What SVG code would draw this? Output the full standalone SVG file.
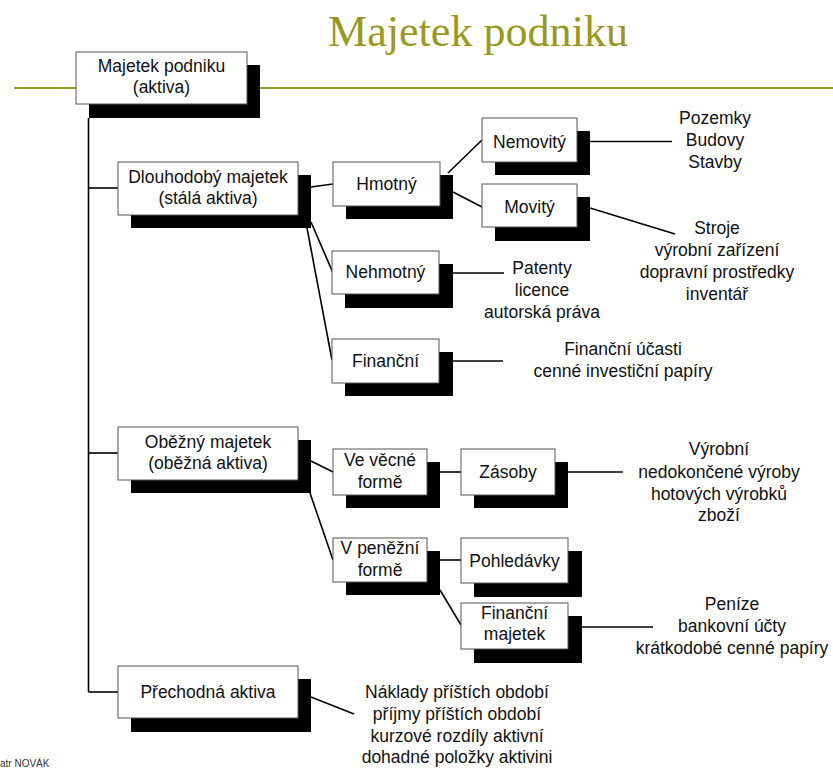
<svg xmlns="http://www.w3.org/2000/svg" width="833" height="769" viewBox="0 0 833 769">
<style>
  .bg { fill: #ffffff; }
  .box { fill: #ffffff; stroke: #555555; stroke-width: 1; }
  .sh { fill: #000000; }
  .t { font-family: "Liberation Sans", Arial, sans-serif; font-size: 17.5px; fill: #111111; text-anchor: middle; }
  .c { stroke: #000000; stroke-width: 1.6; fill: none; }
  .title { font-family: "Liberation Serif", "Times New Roman", serif; font-size: 44px; fill: #98981e; text-anchor: middle; }
  .rule { stroke: #9a9a26; stroke-width: 2; }
  .foot { font-family: "Liberation Sans", Arial, sans-serif; font-size: 10px; fill: #333333; }
</style>
<rect class="bg" x="0" y="0" width="833" height="769"/>
<text class="title" x="478" y="46" textLength="300" lengthAdjust="spacingAndGlyphs">Majetek podniku</text>
<line class="rule" x1="14" y1="88" x2="833" y2="88"/>

<g id="connectors">
  <line class="c" x1="88.5" y1="118" x2="88.5" y2="692"/>
  <line class="c" x1="88.5" y1="188" x2="118" y2="188"/>
  <line class="c" x1="88.5" y1="453" x2="118" y2="453"/>
  <line class="c" x1="88.5" y1="692" x2="118" y2="692"/>
  <line class="c" x1="311" y1="187" x2="333" y2="184"/>
  <line class="c" x1="311" y1="222" x2="333" y2="273"/>
  <line class="c" x1="307" y1="228" x2="332" y2="360"/>
  <line class="c" x1="448" y1="173" x2="482" y2="140"/>
  <line class="c" x1="453" y1="192" x2="482" y2="207"/>
  <line class="c" x1="590" y1="141.5" x2="672" y2="141.5"/>
  <line class="c" x1="590" y1="208" x2="675" y2="234"/>
  <line class="c" x1="453" y1="273" x2="504" y2="273"/>
  <line class="c" x1="453" y1="361" x2="503" y2="361"/>
  <line class="c" x1="311" y1="461" x2="333" y2="472"/>
  <line class="c" x1="310" y1="493" x2="333" y2="560"/>
  <line class="c" x1="440" y1="472" x2="461" y2="472"/>
  <line class="c" x1="568" y1="472" x2="623" y2="472"/>
  <line class="c" x1="440" y1="560" x2="461" y2="560"/>
  <line class="c" x1="440" y1="590" x2="461" y2="625"/>
  <line class="c" x1="582" y1="627" x2="653" y2="627"/>
  <line class="c" x1="311" y1="697" x2="354" y2="714"/>
</g>

<g id="root">
  <rect class="sh" x="89" y="65" width="171" height="53"/>
  <rect class="box" x="76" y="52" width="171" height="52"/>
  <text class="t" x="161.5" y="72">Majetek podniku</text>
  <text class="t" x="161.5" y="93">(aktiva)</text>
</g>

<g id="dlouhodoby">
  <rect class="sh" x="131" y="175" width="180" height="53"/>
  <rect class="box" x="118" y="162" width="180" height="53"/>
  <text class="t" x="208" y="183">Dlouhodobý majetek</text>
  <text class="t" x="208" y="204">(stálá aktiva)</text>
</g>

<g id="hmotny">
  <rect class="sh" x="346" y="175" width="107" height="44"/>
  <rect class="box" x="333" y="162" width="107" height="44"/>
  <text class="t" x="386.5" y="190">Hmotný</text>
</g>

<g id="nemovity">
  <rect class="sh" x="495" y="131" width="95" height="44"/>
  <rect class="box" x="482" y="118" width="95" height="44"/>
  <text class="t" x="529.5" y="148">Nemovitý</text>
</g>

<g id="movity">
  <rect class="sh" x="495" y="197" width="95" height="44"/>
  <rect class="box" x="482" y="184" width="95" height="43"/>
  <text class="t" x="529.5" y="213">Movitý</text>
</g>

<g id="nehmotny">
  <rect class="sh" x="345" y="264" width="108" height="44"/>
  <rect class="box" x="332" y="251" width="107" height="43"/>
  <text class="t" x="385.5" y="278">Nehmotný</text>
</g>

<g id="financni">
  <rect class="sh" x="345" y="352" width="108" height="44"/>
  <rect class="box" x="332" y="339" width="107" height="44"/>
  <text class="t" x="385.5" y="367">Finanční</text>
</g>

<g id="obezny">
  <rect class="sh" x="131" y="440" width="180" height="53"/>
  <rect class="box" x="118" y="427" width="180" height="53"/>
  <text class="t" x="208" y="448">Oběžný majetek</text>
  <text class="t" x="208" y="469">(oběžná aktiva)</text>
</g>

<g id="vecne">
  <rect class="sh" x="346" y="462" width="94" height="46"/>
  <rect class="box" x="333" y="449" width="94" height="46"/>
  <text class="t" x="380" y="466">Ve věcné</text>
  <text class="t" x="380" y="488">formě</text>
</g>

<g id="penezni">
  <rect class="sh" x="346" y="551" width="94" height="44"/>
  <rect class="box" x="333" y="538" width="94" height="44"/>
  <text class="t" x="380" y="554">V peněžní</text>
  <text class="t" x="380" y="576">formě</text>
</g>

<g id="zasoby">
  <rect class="sh" x="474" y="462" width="94" height="46"/>
  <rect class="box" x="461" y="449" width="94" height="46"/>
  <text class="t" x="508" y="478">Zásoby</text>
</g>

<g id="pohledavky">
  <rect class="sh" x="474" y="551" width="108" height="46"/>
  <rect class="box" x="461" y="538" width="107" height="45"/>
  <text class="t" x="514.5" y="567">Pohledávky</text>
</g>

<g id="financni-majetek">
  <rect class="sh" x="474" y="616" width="108" height="47"/>
  <rect class="box" x="461" y="603" width="107" height="46"/>
  <text class="t" x="514.5" y="619">Finanční</text>
  <text class="t" x="514.5" y="640">majetek</text>
</g>

<g id="prechodna">
  <rect class="sh" x="131" y="679" width="180" height="53"/>
  <rect class="box" x="118" y="666" width="180" height="52"/>
  <text class="t" x="208" y="698">Přechodná aktiva</text>
</g>

<g id="notes">
  <text class="t" x="715" y="124">Pozemky</text>
  <text class="t" x="715" y="146">Budovy</text>
  <text class="t" x="715" y="167.5">Stavby</text>

  <text class="t" x="717" y="234">Stroje</text>
  <text class="t" x="717" y="256">výrobní zařízení</text>
  <text class="t" x="717" y="278">dopravní prostředky</text>
  <text class="t" x="717" y="300">inventář</text>

  <text class="t" x="542" y="274">Patenty</text>
  <text class="t" x="542" y="296">licence</text>
  <text class="t" x="542" y="318">autorská práva</text>

  <text class="t" x="623" y="355">Finanční účasti</text>
  <text class="t" x="623" y="377">cenné investiční papíry</text>

  <text class="t" x="719" y="454.5">Výrobní</text>
  <text class="t" x="719" y="477.5">nedokončené výroby</text>
  <text class="t" x="719" y="499.5">hotových výrobků</text>
  <text class="t" x="719" y="521">zboží</text>

  <text class="t" x="732" y="610">Peníze</text>
  <text class="t" x="732" y="632">bankovní účty</text>
  <text class="t" x="732" y="654">krátkodobé cenné papíry</text>

  <text class="t" x="457" y="698">Náklady příštích období</text>
  <text class="t" x="457" y="720">příjmy příštích období</text>
  <text class="t" x="457" y="742">kurzové rozdíly aktivní</text>
  <text class="t" x="457" y="763">dohadné položky aktivini</text>
</g>

<text class="foot" x="0" y="767">atr NOVÁK</text>
</svg>
